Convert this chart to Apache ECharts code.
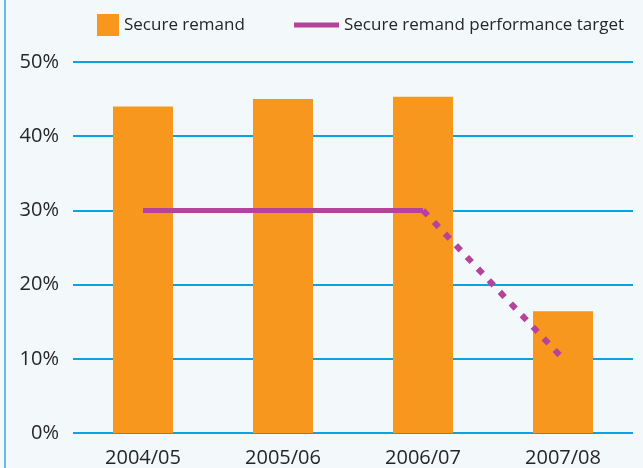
<!DOCTYPE html>
<html><head><meta charset="utf-8">
<script src="https://cdn.jsdelivr.net/npm/echarts@6/dist/echarts.min.js"></script>
<style>html,body{margin:0;padding:0;background:#F3F8FB;}#c{width:643px;height:468px;}</style>
</head><body><div id="c"></div>
<script>
const categories = ['2004/05', '2005/06', '2006/07', '2007/08'];
const secureRemand = [44, 45, 45.3, 16.4];
const targetActual = [30, 30, 30, null];
const targetPlanned = [null, null, 30, 10];
const yTicks = [0, 10, 20, 30, 40, 50];

const chart = echarts.init(document.getElementById('c'));
const font = '"Open Sans", "Noto Sans", sans-serif';
const txt = '#262626';
chart.setOption({
  backgroundColor: '#F3F8FB',
  animation: false,
  graphic: [{type: 'line', shape: {x1: 5, y1: 0, x2: 5, y2: 468}, style: {stroke: '#6BBCE0', lineWidth: 2}}],
  legend: [
    {data: ['Secure remand'], left: 97, top: 14, padding: 0, itemWidth: 22, itemHeight: 22, icon: 'rect',
     textStyle: {fontFamily: font, fontSize: 17, color: txt, lineHeight: 22}, itemGap: 10},
    {data: [{name: 'Secure remand performance target', icon: 'rect'}], left: 294, top: 14, padding: 0,
     itemWidth: 45, itemHeight: 5,
     textStyle: {fontFamily: font, fontSize: 17, color: txt, lineHeight: 22}}
  ],
  grid: {left: 73, right: 10, top: 62, bottom: 35, containLabel: false},
  xAxis: {
    type: 'category', data: categories,
    axisLine: {show: false}, axisTick: {show: false},
    axisLabel: {fontFamily: font, fontSize: 20, color: txt, margin: 15}
  },
  yAxis: {
    type: 'value', min: yTicks[0], max: yTicks[yTicks.length - 1], interval: 10,
    axisLine: {show: false}, axisTick: {show: false},
    axisLabel: {fontFamily: font, fontSize: 20, color: txt, margin: 14, formatter: '{value}%'},
    splitLine: {lineStyle: {color: '#0AA3E2', width: 2}}
  },
  series: [
    {name: 'Secure remand', type: 'bar', data: secureRemand, barWidth: 60,
     itemStyle: {color: '#F7971E'}, z: 2},
    {name: 'Secure remand performance target', type: 'line', data: targetActual,
     symbol: 'none', lineStyle: {color: '#B5439A', width: 5}, itemStyle: {color: '#B5439A'}, z: 3},
    {name: 'Secure remand performance target', type: 'line', data: targetPlanned,
     symbol: 'none', lineStyle: {color: '#B5439A', width: 6, type: [7, 9]}, itemStyle: {color: '#B5439A'}, z: 3}
  ]
});
</script></body></html>
